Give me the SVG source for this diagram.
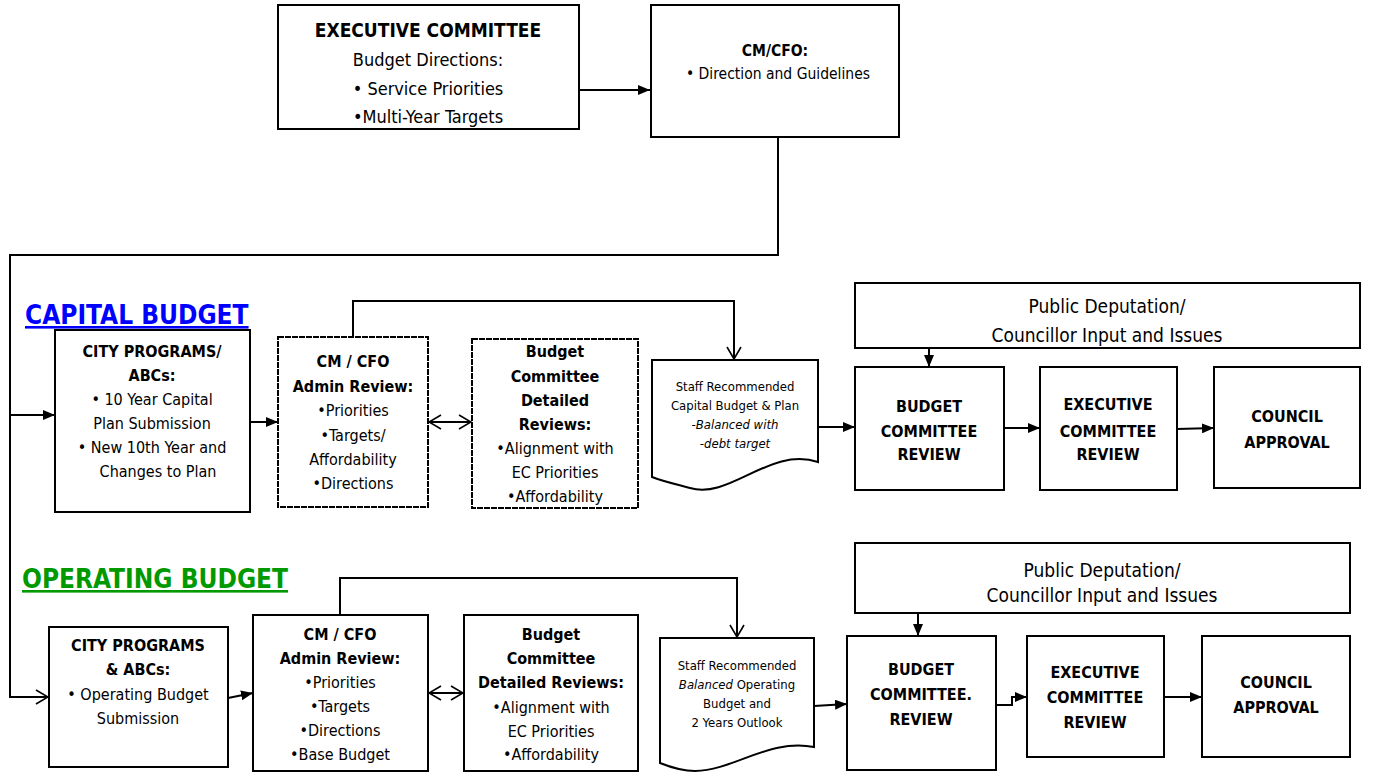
<svg xmlns="http://www.w3.org/2000/svg" width="1381" height="772" viewBox="0 0 1381 772">
<style>
text{font-family:"Liberation Sans Narrow","DejaVu Sans Condensed","Liberation Sans",sans-serif;fill:#000;text-anchor:middle}
.b{font-weight:bold}
.box{fill:#fff;stroke:#000;stroke-width:2}
.dash{fill:#fff;stroke:#000;stroke-width:2;stroke-dasharray:6 1}
.ln{fill:none;stroke:#000;stroke-width:2}
.f18{font-size:18px}
.f16{font-size:16px}
.f15{font-size:15.5px}
.f13{font-size:13px}
.f19{font-size:19px}
.i{font-style:italic}
.h{font-size:26px;font-weight:bold;text-anchor:start;text-decoration:underline}
</style>
<defs>
<marker id="a" markerUnits="userSpaceOnUse" markerWidth="12" markerHeight="10" refX="12" refY="5" orient="auto"><path d="M0,0 L12,5 L0,10 z" fill="#000"/></marker>
<marker id="v" markerUnits="userSpaceOnUse" markerWidth="14" markerHeight="16" refX="13" refY="8" orient="auto"><path d="M1,1 L13,8 L1,15" fill="none" stroke="#000" stroke-width="1.6"/></marker>
<marker id="vs" markerUnits="userSpaceOnUse" markerWidth="14" markerHeight="16" refX="1" refY="8" orient="auto"><path d="M13,1 L1,8 L13,15" fill="none" stroke="#000" stroke-width="1.6"/></marker>
</defs>

<g id="connectors">
<path class="ln" d="M574,90 H650" marker-end="url(#a)"/>
<path class="ln" d="M778,137 V255 H10 V697 H48" marker-end="url(#v)"/>
<path class="ln" d="M10,415 H55" marker-end="url(#a)"/>
<path class="ln" d="M250,422 H278" marker-end="url(#a)"/>
<path class="ln" d="M353,337 V301 H734 V359" marker-end="url(#v)"/>
<path class="ln" d="M429,422 H471" marker-start="url(#vs)" marker-end="url(#v)"/>
<path class="ln" d="M818,427 H855" marker-end="url(#a)"/>
<path class="ln" d="M929,348 V367" marker-end="url(#a)"/>
<path class="ln" d="M1004,428 H1040" marker-end="url(#a)"/>
<path class="ln" d="M1177,429 L1214,428" marker-end="url(#a)"/>
<path class="ln" d="M228,698 L253,693" marker-end="url(#a)"/>
<path class="ln" d="M340,615 V578 H737 V637" marker-end="url(#v)"/>
<path class="ln" d="M429,693 H463" marker-start="url(#vs)" marker-end="url(#v)"/>
<path class="ln" d="M814,706 L847,704" marker-end="url(#a)"/>
<path class="ln" d="M918,613 V636" marker-end="url(#a)"/>
<path class="ln" d="M997,705 H1012 V697 H1027" marker-end="url(#a)"/>
<path class="ln" d="M1164,697 H1202" marker-end="url(#a)"/>
</g>

<g id="exec-committee">
<rect class="box" x="278" y="5" width="301" height="124"/>
<text class="b f19" x="428" y="37">EXECUTIVE COMMITTEE</text>
<text class="f18" x="428" y="66">Budget Directions:</text>
<text class="f18" x="428" y="95">• Service Priorities</text>
<text class="f18" x="428" y="123">•Multi-Year Targets</text>
</g>

<g id="cmcfo-top">
<rect class="box" x="651" y="5" width="248" height="132"/>
<text class="b f15" x="775" y="56">CM/CFO:</text>
<text class="f15" x="778" y="79">• Direction and Guidelines</text>
</g>

<g id="capital-title">
<text class="h" x="25" y="324" style="fill:#0000ff">CAPITAL BUDGET</text>
</g>

<g id="cap-city">
<rect class="box" x="55" y="330" width="195" height="182"/>
<text class="b f16" x="152" y="357">CITY PROGRAMS/</text>
<text class="b f16" x="152" y="381">ABCs:</text>
<text class="f16" x="152" y="405">• 10 Year Capital</text>
<text class="f16" x="152" y="429">Plan Submission</text>
<text class="f16" x="152" y="453">• New 10th Year and</text>
<text class="f16" x="158" y="477">Changes to Plan</text>
</g>

<g id="cap-cmcfo">
<rect class="dash" x="278" y="337" width="150" height="170"/>
<text class="b f16" x="353" y="367">CM / CFO</text>
<text class="b f16" x="353" y="392">Admin Review:</text>
<text class="f16" x="353" y="416">•Priorities</text>
<text class="f16" x="353" y="441">•Targets/</text>
<text class="f16" x="353" y="465">Affordability</text>
<text class="f16" x="353" y="489">•Directions</text>
</g>

<g id="cap-bc-detailed">
<rect class="dash" x="472" y="339" width="166" height="169"/>
<text class="b f16" x="555" y="357">Budget</text>
<text class="b f16" x="555" y="382">Committee</text>
<text class="b f16" x="555" y="406">Detailed</text>
<text class="b f16" x="555" y="430">Reviews:</text>
<text class="f16" x="555" y="454">•Alignment with</text>
<text class="f16" x="555" y="478">EC Priorities</text>
<text class="f16" x="555" y="502">•Affordability</text>
</g>

<g id="cap-staff">
<path class="box" d="M652,360 H818 V462 C770,446 730,500 690,488 C675,484 662,481 652,477 Z"/>
<text class="f13" x="735" y="391">Staff Recommended</text>
<text class="f13" x="735" y="410">Capital Budget &amp; Plan</text>
<text class="f13 i" x="735" y="429">-Balanced with</text>
<text class="f13 i" x="735" y="448">-debt target</text>
</g>

<g id="cap-public">
<rect class="box" x="855" y="283" width="505" height="65"/>
<text class="f19" x="1107" y="313">Public Deputation/</text>
<text class="f19" x="1107" y="342">Councillor Input and Issues</text>
</g>

<g id="cap-bc-review">
<rect class="box" x="855" y="367" width="149" height="123"/>
<text class="b f16" x="929" y="412">BUDGET</text>
<text class="b f16" x="929" y="437">COMMITTEE</text>
<text class="b f16" x="929" y="460">REVIEW</text>
</g>

<g id="cap-exec-review">
<rect class="box" x="1040" y="367" width="137" height="123"/>
<text class="b f16" x="1108" y="410">EXECUTIVE</text>
<text class="b f16" x="1108" y="437">COMMITTEE</text>
<text class="b f16" x="1108" y="460">REVIEW</text>
</g>

<g id="cap-council">
<rect class="box" x="1214" y="367" width="146" height="121"/>
<text class="b f16" x="1287" y="422">COUNCIL</text>
<text class="b f16" x="1287" y="448">APPROVAL</text>
</g>

<g id="operating-title">
<text class="h" x="22" y="588" style="fill:#009900">OPERATING BUDGET</text>
</g>

<g id="op-city">
<rect class="box" x="49" y="627" width="179" height="140"/>
<text class="b f16" x="138" y="651">CITY PROGRAMS</text>
<text class="b f16" x="138" y="675">&amp; ABCs:</text>
<text class="f16" x="138" y="700">• Operating Budget</text>
<text class="f16" x="138" y="724">Submission</text>
</g>

<g id="op-cmcfo">
<rect class="box" x="253" y="615" width="175" height="156"/>
<text class="b f16" x="340" y="640">CM / CFO</text>
<text class="b f16" x="340" y="664">Admin Review:</text>
<text class="f16" x="340" y="688">•Priorities</text>
<text class="f16" x="340" y="712">•Targets</text>
<text class="f16" x="340" y="736">•Directions</text>
<text class="f16" x="340" y="760">•Base Budget</text>
</g>

<g id="op-bc-detailed">
<rect class="box" x="464" y="615" width="174" height="156"/>
<text class="b f16" x="551" y="640">Budget</text>
<text class="b f16" x="551" y="664">Committee</text>
<text class="b f16" x="551" y="688">Detailed Reviews:</text>
<text class="f16" x="551" y="713">•Alignment with</text>
<text class="f16" x="551" y="737">EC Priorities</text>
<text class="f16" x="551" y="760">•Affordability</text>
</g>

<g id="op-staff">
<path class="box" d="M660,638 H814 V747 C770,738 735,770 695,771 C682,771 670,767 660,763 Z"/>
<text class="f13" x="737" y="670">Staff Recommended</text>
<text class="f13" x="737" y="689"><tspan class="i">Balanced</tspan> Operating</text>
<text class="f13" x="737" y="708">Budget and</text>
<text class="f13" x="737" y="727">2 Years Outlook</text>
</g>

<g id="op-public">
<rect class="box" x="855" y="543" width="495" height="70"/>
<text class="f19" x="1102" y="577">Public Deputation/</text>
<text class="f19" x="1102" y="602">Councillor Input and Issues</text>
</g>

<g id="op-bc-review">
<rect class="box" x="847" y="636" width="149" height="134"/>
<text class="b f16" x="921" y="675">BUDGET</text>
<text class="b f16" x="921" y="700">COMMITTEE.</text>
<text class="b f16" x="921" y="725">REVIEW</text>
</g>

<g id="op-exec-review">
<rect class="box" x="1027" y="636" width="137" height="121"/>
<text class="b f16" x="1095" y="678">EXECUTIVE</text>
<text class="b f16" x="1095" y="703">COMMITTEE</text>
<text class="b f16" x="1095" y="728">REVIEW</text>
</g>

<g id="op-council">
<rect class="box" x="1202" y="636" width="148" height="121"/>
<text class="b f16" x="1276" y="688">COUNCIL</text>
<text class="b f16" x="1276" y="713">APPROVAL</text>
</g>
</svg>
